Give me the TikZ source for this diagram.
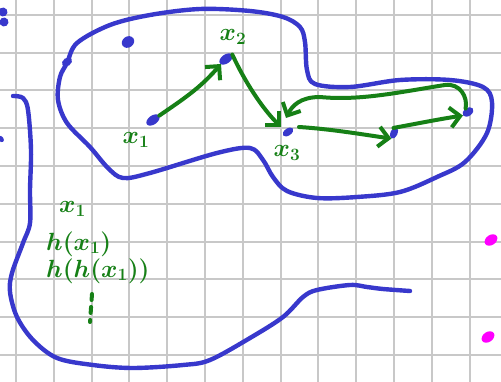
\documentclass[tikz,border=0pt]{standalone}
\usetikzlibrary{arrows.meta,shapes.geometric}
\definecolor{pen}{RGB}{56,56,204}
\definecolor{grn}{RGB}{22,128,22}
\definecolor{mag}{RGB}{255,0,255}
\definecolor{gridc}{RGB}{200,200,200}
\begin{document}
\begin{tikzpicture}[x=1pt,y=-1pt,
  gridline/.style={draw=gridc,line width=2pt},
  blueline/.style={draw=pen,line width=4.4pt,line cap=round,line join=round},
  grnline/.style={draw=grn,line width=4pt,line cap=round,line join=round},
  garrow/.style={grnline,-{Straight Barb[length=10pt,width=20pt,line width=4pt]}},
  blob/.style={shape=ellipse,fill=pen,inner sep=0pt,minimum width=15pt,minimum height=9pt,rotate=35},
  mblob/.style={shape=ellipse,fill=mag,inner sep=0pt,minimum width=14pt,minimum height=10pt,rotate=35},
  lbl/.style={text=grn,font=\fontsize{27}{30}\selectfont\boldmath,inner sep=0pt}]
\useasboundingbox (0,0) rectangle (501,382);
\clip (0,0) rectangle (501,382);
\fill[white] (0,0) rectangle (501,382);
% grid
\foreach \i in {0,...,12} \draw[gridline] ({16+37.8*\i},0) -- ({16+37.8*\i},382);
\foreach \j in {0,...,9} \draw[gridline] (0,{14.8+37.8*\j}) -- (501,{14.8+37.8*\j});
% big loop
\draw[blueline] plot[smooth cycle,tension=0.55] coordinates {
 (67,63) (77,43) (110,25) (150,15) (200,9) (250,11) (283,17) (300,27) (305,42)
 (307,70) (315,84) (350,87) (400,80) (450,80) (483,87) (492,102) (487,133)
 (465,162) (437,177) (400,192) (357,197) (317,198) (287,191) (273,177) (263,160)
 (250,148) (217,153) (150,173) (123,178) (108,168) (90,147) (67,123) (58,100) (60,77)};
% left open curve
\draw[blueline] plot[smooth,tension=0.55] coordinates {
 (13,96) (23,98) (28,110) (31,150) (30,190) (30,223) (23,243) (12,273) (10,292)
 (17,317) (33,340) (57,358) (93,365) (133,368) (183,365) (210,360) (250,338)
 (283,317) (303,297) (317,290) (350,285) (367,287) (383,289) (410,291)};
% blobs
\node[blob,minimum width=11pt,minimum height=8pt] (s0) at (67,62) {};
\node[blob,minimum width=13pt,minimum height=11pt] (d0) at (128,42) {};
\node[blob] (x1b) at (153,120) {};
\node[blob] (x2b) at (226,59) {};
\node[blob,minimum width=12pt,minimum height=7pt] (x3b) at (288,132) {};
\node[blob,minimum width=12pt,minimum height=7pt,rotate=30] (p4) at (394,133) {};
\node[blob,minimum width=12pt,minimum height=8pt] (p5) at (468,112) {};
\node[blob,minimum width=9pt,minimum height=9pt] (c1) at (3,12) {};
\node[blob,minimum width=9pt,minimum height=9pt] (c2) at (4,22) {};
\node[blob,minimum width=5pt,minimum height=7pt] (c3) at (1,139) {};
\node[mblob] (m1) at (491,240) {};
\node[mblob] (m2) at (488,337) {};
% green arrows
\coordinate (x3in) at (281,127);
\coordinate (x3ret) at (286,118);
\draw[garrow] (x1b.east) .. controls (185,98) and (200,88) .. (221,64);
\draw[garrow] (x2b.east) .. controls (245,82) and (262,108) .. (x3in);
\draw[garrow] (299,127) .. controls (330,129) and (360,134) .. (p4.west);
\draw[garrow] (p4.north east) .. controls (415,124) and (440,119) .. (p5.west);
\draw[garrow] (p5.north) .. controls (468,97) and (460,83) .. (445,85)
  .. controls (400,92) and (360,101) .. (320,97)
  .. controls (300,97) and (292,106) .. (x3ret);
% labels
\node[lbl] (l1) at (136,140) {$x_1$};
\node[lbl] (l2) at (233,37) {$x_2$};
\node[lbl] (l3) at (287,153) {$x_3$};
\node[lbl,anchor=west] (t1) at (59,209) {$x_1$};
\node[lbl,anchor=west] (t2) at (46,244) {$h(x_1)$};
\node[lbl,anchor=west] (t3) at (46,271) {$h(h(x_1))$};
\draw[grnline,dash pattern=on 6pt off 7pt] (92,294) -- (90,322);
\end{tikzpicture}
\end{document}
